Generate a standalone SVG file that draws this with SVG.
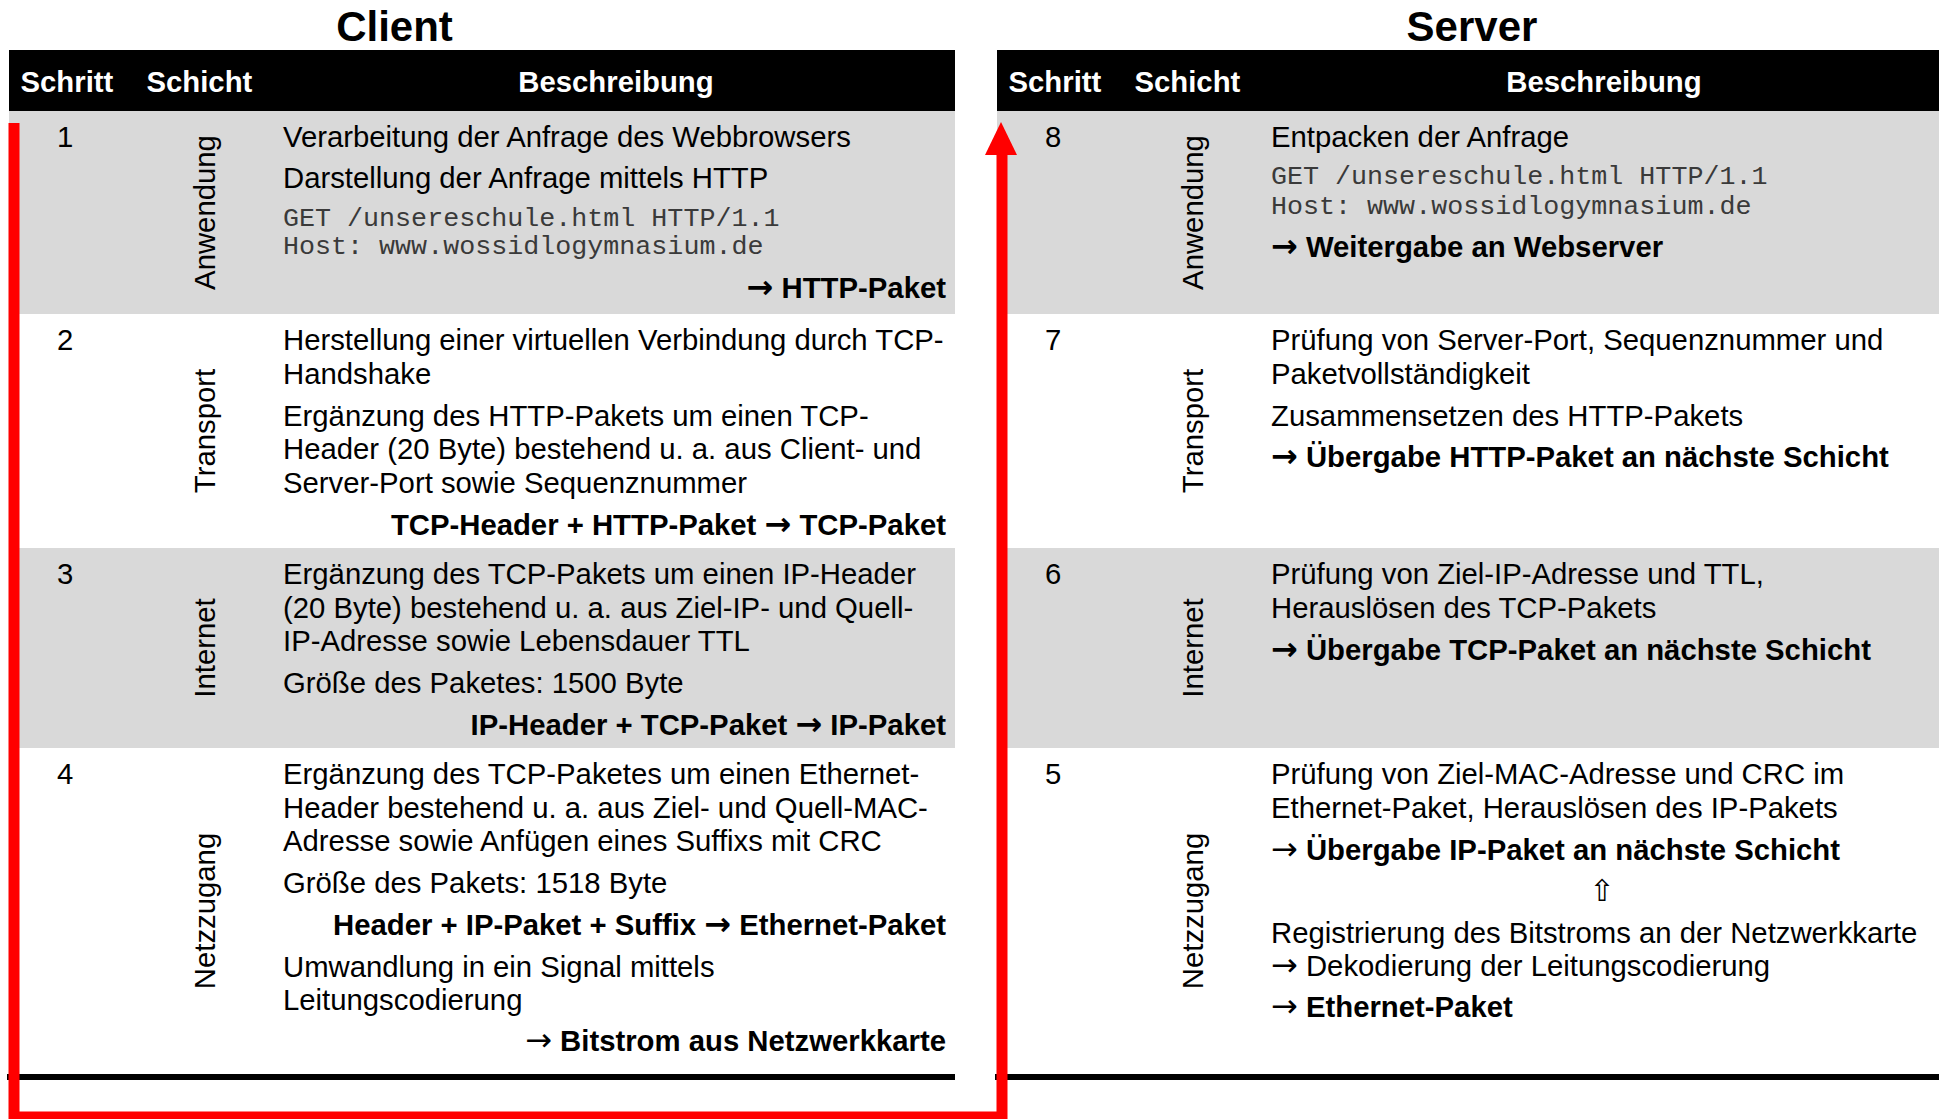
<svg xmlns="http://www.w3.org/2000/svg" width="1939" height="1119" viewBox="0 0 1939 1119">
<style>
text { font-family: "Liberation Sans", Arial, sans-serif; font-size: 29.3px; fill: #000; }
.title { font-size: 42px; font-weight: bold; text-anchor: middle; }
.hd { fill: #fff; font-weight: bold; }
.mid { text-anchor: middle; }
.b { font-weight: bold; }
.n { font-weight: normal; }
.r { text-anchor: end; }
.arr { font-family: "DejaVu Sans", sans-serif; font-size: 32px; }
.mono { font-family: "Liberation Mono", "Courier New", monospace; font-size: 26.7px; fill: #3a3a3a; }
.sym { font-family: "DejaVu Sans", sans-serif; font-size: 30px; text-anchor: middle; }
.gray { fill: #d9d9d9; }
.bar { fill: #000; }
.conn { fill: none; stroke: #ff0000; stroke-width: 11; }
.arrowhead { fill: #ff0000; }
</style>
<rect x="0" y="0" width="1939" height="1119" fill="#fff"/>

<!-- CLIENT -->
<g id="client-table">
  <text class="title" x="394.5" y="40.5">Client</text>
  <rect class="bar" x="9" y="50" width="946" height="61"/>
  <rect class="bar" x="125.5" y="110" width="1.5" height="3"/>
  <rect class="bar" x="275.5" y="110" width="1.5" height="3"/>
  <text class="hd" x="20.5" y="91.5">Schritt</text>
  <text class="hd" x="146.5" y="91.5">Schicht</text>
  <text class="hd mid" x="616" y="91.5">Beschreibung</text>
  <rect class="gray" x="9" y="111" width="946" height="203"/>
  <rect class="gray" x="9" y="548" width="946" height="200"/>
  <rect class="bar" x="7" y="1074" width="948" height="6"/>
</g>

<g id="step1">
  <text x="57" y="147">1</text>
  <text class="mid" transform="translate(215,212.5) rotate(-90)">Anwendung</text>
  <text x="283" y="147">Verarbeitung der Anfrage des Webbrowsers</text>
  <text x="283" y="188">Darstellung der Anfrage mittels HTTP</text>
  <text class="mono" x="283" y="226">GET /unsereschule.html HTTP/1.1</text>
  <text class="mono" x="283" y="254">Host: www.wossidlogymnasium.de</text>
  <text class="b r" x="946" y="298"><tspan class="arr">→</tspan> HTTP-Paket</text>
</g>

<g id="step2">
  <text x="57" y="350">2</text>
  <text class="mid" transform="translate(215,431) rotate(-90)">Transport</text>
  <text x="283" y="350">Herstellung einer virtuellen Verbindung durch TCP-</text>
  <text x="283" y="383.5">Handshake</text>
  <text x="283" y="425.5">Ergänzung des HTTP-Pakets um einen TCP-</text>
  <text x="283" y="459">Header (20 Byte) bestehend u. a. aus Client- und</text>
  <text x="283" y="492.5">Server-Port sowie Sequenznummer</text>
  <text class="b r" x="946" y="534.5">TCP-Header + HTTP-Paket <tspan class="arr">→</tspan> TCP-Paket</text>
</g>

<g id="step3">
  <text x="57" y="584">3</text>
  <text class="mid" transform="translate(215,648) rotate(-90)">Internet</text>
  <text x="283" y="584">Ergänzung des TCP-Pakets um einen IP-Header</text>
  <text x="283" y="617.5">(20 Byte) bestehend u. a. aus Ziel-IP- und Quell-</text>
  <text x="283" y="651">IP-Adresse sowie Lebensdauer TTL</text>
  <text x="283" y="693">Größe des Paketes: 1500 Byte</text>
  <text class="b r" x="946" y="735">IP-Header + TCP-Paket <tspan class="arr">→</tspan> IP-Paket</text>
</g>

<g id="step4">
  <text x="57" y="784">4</text>
  <text class="mid" transform="translate(215,911) rotate(-90)">Netzzugang</text>
  <text x="283" y="784">Ergänzung des TCP-Paketes um einen Ethernet-</text>
  <text x="283" y="817.5">Header bestehend u. a. aus Ziel- und Quell-MAC-</text>
  <text x="283" y="851">Adresse sowie Anfügen eines Suffixs mit CRC</text>
  <text x="283" y="893">Größe des Pakets: 1518 Byte</text>
  <text class="b r" x="946" y="934.5">Header + IP-Paket + Suffix <tspan class="arr">→</tspan> Ethernet-Paket</text>
  <text x="283" y="976.5">Umwandlung in ein Signal mittels</text>
  <text x="283" y="1010">Leitungscodierung</text>
  <text class="b r" x="946" y="1051"><tspan class="arr n">→</tspan> Bitstrom aus Netzwerkkarte</text>
</g>

<!-- SERVER -->
<g id="server-table">
  <text class="title" x="1472" y="40.5">Server</text>
  <rect class="bar" x="997" y="50" width="942" height="61"/>
  <rect class="bar" x="1113.5" y="110" width="1.5" height="3"/>
  <rect class="bar" x="1263.5" y="110" width="1.5" height="3"/>
  <text class="hd" x="1008.5" y="91.5">Schritt</text>
  <text class="hd" x="1134.5" y="91.5">Schicht</text>
  <text class="hd mid" x="1604" y="91.5">Beschreibung</text>
  <rect class="gray" x="997" y="111" width="942" height="203"/>
  <rect class="gray" x="997" y="548" width="942" height="200"/>
  <rect class="bar" x="995" y="1074" width="944" height="6"/>
</g>

<g id="step8">
  <text x="1045" y="147">8</text>
  <text class="mid" transform="translate(1203,212.5) rotate(-90)">Anwendung</text>
  <text x="1271" y="147">Entpacken der Anfrage</text>
  <text class="mono" x="1271" y="184">GET /unsereschule.html HTTP/1.1</text>
  <text class="mono" x="1271" y="214">Host: www.wossidlogymnasium.de</text>
  <text class="b" x="1271" y="257"><tspan class="arr">→</tspan> Weitergabe an Webserver</text>
</g>

<g id="step7">
  <text x="1045" y="350">7</text>
  <text class="mid" transform="translate(1203,431) rotate(-90)">Transport</text>
  <text x="1271" y="350">Prüfung von Server-Port, Sequenznummer und</text>
  <text x="1271" y="383.5">Paketvollständigkeit</text>
  <text x="1271" y="425.5">Zusammensetzen des HTTP-Pakets</text>
  <text class="b" x="1271" y="467"><tspan class="arr">→</tspan> Übergabe HTTP-Paket an nächste Schicht</text>
</g>

<g id="step6">
  <text x="1045" y="584">6</text>
  <text class="mid" transform="translate(1203,648) rotate(-90)">Internet</text>
  <text x="1271" y="584">Prüfung von Ziel-IP-Adresse und TTL,</text>
  <text x="1271" y="617.5">Herauslösen des TCP-Pakets</text>
  <text class="b" x="1271" y="659.5"><tspan class="arr">→</tspan> Übergabe TCP-Paket an nächste Schicht</text>
</g>

<g id="step5">
  <text x="1045" y="784">5</text>
  <text class="mid" transform="translate(1203,911) rotate(-90)">Netzzugang</text>
  <text x="1271" y="784">Prüfung von Ziel-MAC-Adresse und CRC im</text>
  <text x="1271" y="817.5">Ethernet-Paket, Herauslösen des IP-Pakets</text>
  <text class="b" x="1271" y="859.5"><tspan class="arr n">→</tspan> Übergabe IP-Paket an nächste Schicht</text>
  <text class="sym" x="1602" y="901">⇧</text>
  <text x="1271" y="942.5">Registrierung des Bitstroms an der Netzwerkkarte</text>
  <text x="1271" y="976"><tspan class="arr">→</tspan> Dekodierung der Leitungscodierung</text>
  <text class="b" x="1271" y="1017"><tspan class="arr n">→</tspan> Ethernet-Paket</text>
</g>

<g id="connectors">
  <path class="conn" d="M14,123 L14,1117 L1002,1117 L1002,152"/>
  <polygon class="arrowhead" points="1001,122 1017,155 985,155"/>
</g>
</svg>
